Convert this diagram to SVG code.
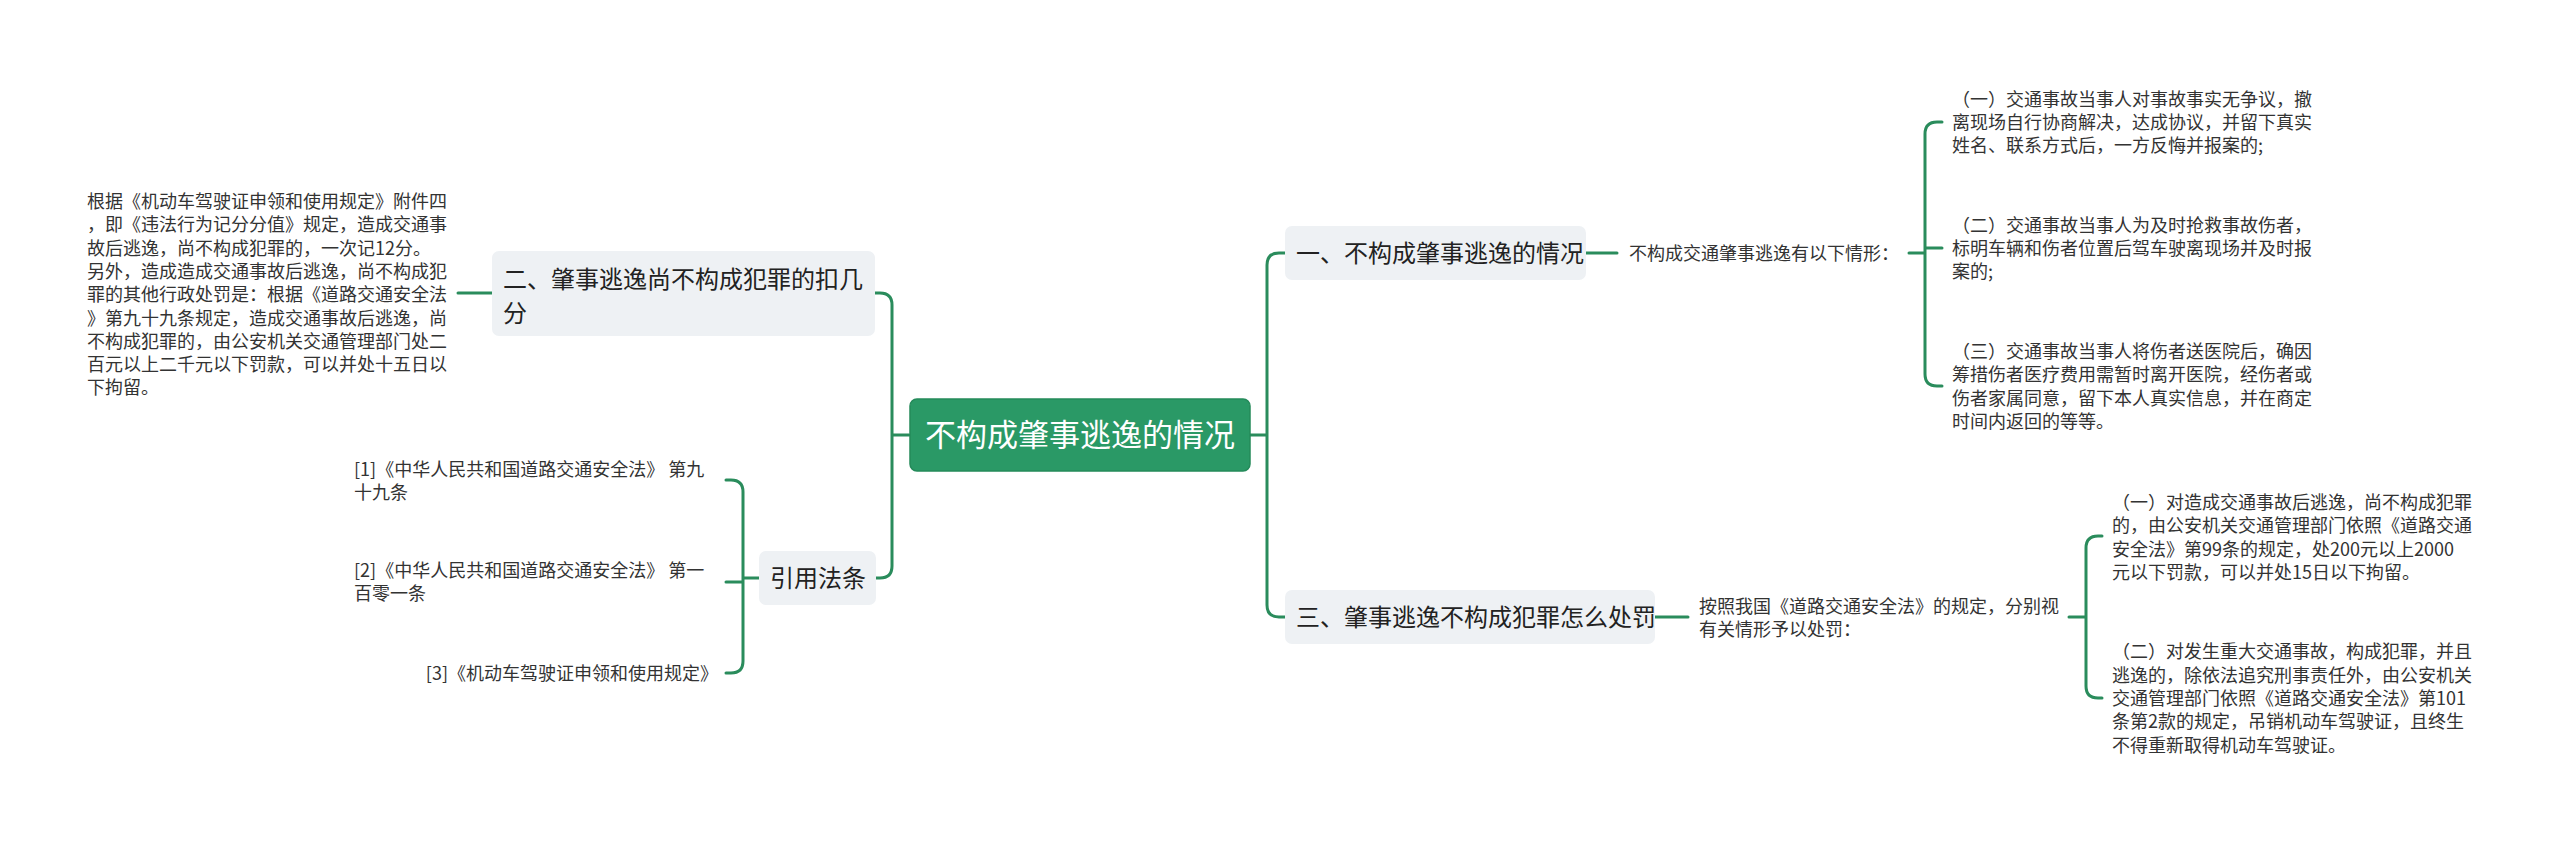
<svg xmlns="http://www.w3.org/2000/svg" width="2560" height="842" viewBox="0 0 2560 842">
<style>
.bg{fill:#ffffff}
.conn{fill:none;stroke:#2a8c5c;stroke-width:3;stroke-linecap:round}
.node{fill:#eef1f4}
.root{fill:#2a9966;stroke:#248a5a;stroke-width:1.5}
text{font-family:"Noto Sans CJK SC","Noto Sans",sans-serif}
.nt{font-size:24px;fill:#222}
.rt{font-size:31px;fill:#ffffff}
.lt{font-size:18px;fill:#333}
</style>
<rect class="bg" x="0" y="0" width="2560" height="842"/>
<g id="connectors">
<path class="conn" d="M909,435 H892 M875,293 H880 Q892,293 892,305 V566 Q892,578 880,578 H875"/>
<path class="conn" d="M1250,435 H1267 M1285,253 H1279 Q1267,253 1267,265 V605 Q1267,617 1279,617 H1285"/>
<path class="conn" d="M1586,253 H1617"/>
<path class="conn" d="M1909,253 H1925 M1942,122 H1937 Q1925,122 1925,134 V374 Q1925,386 1937,386 H1942 M1925,248 H1942"/>
<path class="conn" d="M1655,617 H1688"/>
<path class="conn" d="M2069,617 H2086 M2102,536 H2098 Q2086,536 2086,548 V686 Q2086,698 2098,698 H2102"/>
<path class="conn" d="M458,293 H492"/>
<path class="conn" d="M759,578 H743 M726,480 H731 Q743,480 743,492 V661 Q743,673 731,673 H726 M743,582 H726"/>
</g>
<g id="root">
<rect class="root" x="910" y="399" width="340" height="72" rx="7"/>
<text class="rt" x="1080" y="446" text-anchor="middle">不构成肇事逃逸的情况</text>
</g>
<g id="n1">
<rect class="node" x="1285" y="226" width="301" height="54" rx="7"/>
<text class="nt" x="1296" y="262">一、不构成肇事逃逸的情况</text>
</g>
<g id="n1-leaf">
<text class="lt" x="1629" y="260">不构成交通肇事逃逸有以下情形：</text>
</g>
<g id="n1-c1">
<text class="lt" x="1952" y="105.7"><tspan x="1952">（一）交通事故当事人对事故事实无争议，撤</tspan><tspan x="1952" dy="23.3">离现场自行协商解决，达成协议，并留下真实</tspan><tspan x="1952" dy="23.3">姓名、联系方式后，一方反悔并报案的;</tspan></text>
</g>
<g id="n1-c2">
<text class="lt" x="1952" y="231.7"><tspan x="1952">（二）交通事故当事人为及时抢救事故伤者，</tspan><tspan x="1952" dy="23.3">标明车辆和伤者位置后驾车驶离现场并及时报</tspan><tspan x="1952" dy="23.3">案的;</tspan></text>
</g>
<g id="n1-c3">
<text class="lt" x="1952" y="358"><tspan x="1952">（三）交通事故当事人将伤者送医院后，确因</tspan><tspan x="1952" dy="23.3">筹措伤者医疗费用需暂时离开医院，经伤者或</tspan><tspan x="1952" dy="23.3">伤者家属同意，留下本人真实信息，并在商定</tspan><tspan x="1952" dy="23.3">时间内返回的等等。</tspan></text>
</g>
<g id="n3">
<rect class="node" x="1285" y="590" width="370" height="54" rx="7"/>
<text class="nt" x="1296" y="626">三、肇事逃逸不构成犯罪怎么处罚</text>
</g>
<g id="n3-leaf">
<text class="lt" x="1699" y="613"><tspan x="1699">按照我国《道路交通安全法》的规定，分别视</tspan><tspan x="1699" dy="23.3">有关情形予以处罚：</tspan></text>
</g>
<g id="n3-c1">
<text class="lt" x="2112" y="509"><tspan x="2112">（一）对造成交通事故后逃逸，尚不构成犯罪</tspan><tspan x="2112" dy="23.3">的，由公安机关交通管理部门依照《道路交通</tspan><tspan x="2112" dy="23.3">安全法》第99条的规定，处200元以上2000</tspan><tspan x="2112" dy="23.3">元以下罚款，可以并处15日以下拘留。</tspan></text>
</g>
<g id="n3-c2">
<text class="lt" x="2112" y="658.4"><tspan x="2112">（二）对发生重大交通事故，构成犯罪，并且</tspan><tspan x="2112" dy="23.3">逃逸的，除依法追究刑事责任外，由公安机关</tspan><tspan x="2112" dy="23.3">交通管理部门依照《道路交通安全法》第101</tspan><tspan x="2112" dy="23.3">条第2款的规定，吊销机动车驾驶证，且终生</tspan><tspan x="2112" dy="23.3">不得重新取得机动车驾驶证。</tspan></text>
</g>
<g id="n2">
<rect class="node" x="492" y="251" width="383" height="85" rx="7"/>
<text class="nt" x="503" y="288"><tspan x="503">二、肇事逃逸尚不构成犯罪的扣几</tspan><tspan x="503" dy="34">分</tspan></text>
</g>
<g id="n2-leaf">
<text class="lt" x="87" y="208"><tspan x="87">根据《机动车驾驶证申领和使用规定》附件四</tspan><tspan x="87" dy="23.3">，即《违法行为记分分值》规定，造成交通事</tspan><tspan x="87" dy="23.3">故后逃逸，尚不构成犯罪的，一次记12分。</tspan><tspan x="87" dy="23.3">另外，造成造成交通事故后逃逸，尚不构成犯</tspan><tspan x="87" dy="23.3">罪的其他行政处罚是：根据《道路交通安全法</tspan><tspan x="87" dy="23.3">》第九十九条规定，造成交通事故后逃逸，尚</tspan><tspan x="87" dy="23.3">不构成犯罪的，由公安机关交通管理部门处二</tspan><tspan x="87" dy="23.3">百元以上二千元以下罚款，可以并处十五日以</tspan><tspan x="87" dy="23.3">下拘留。</tspan></text>
</g>
<g id="n4">
<rect class="node" x="759" y="551" width="117" height="54" rx="7"/>
<text class="nt" x="770" y="587">引用法条</text>
</g>
<g id="n4-c1">
<text class="lt" x="354" y="475.5"><tspan x="354">[1]《中华人民共和国道路交通安全法》 第九</tspan><tspan x="354" dy="23.3">十九条</tspan></text>
</g>
<g id="n4-c2">
<text class="lt" x="354" y="577"><tspan x="354">[2]《中华人民共和国道路交通安全法》 第一</tspan><tspan x="354" dy="23.3">百零一条</tspan></text>
</g>
<g id="n4-c3">
<text class="lt" x="718" y="680" text-anchor="end">[3]《机动车驾驶证申领和使用规定》</text>
</g>
</svg>
